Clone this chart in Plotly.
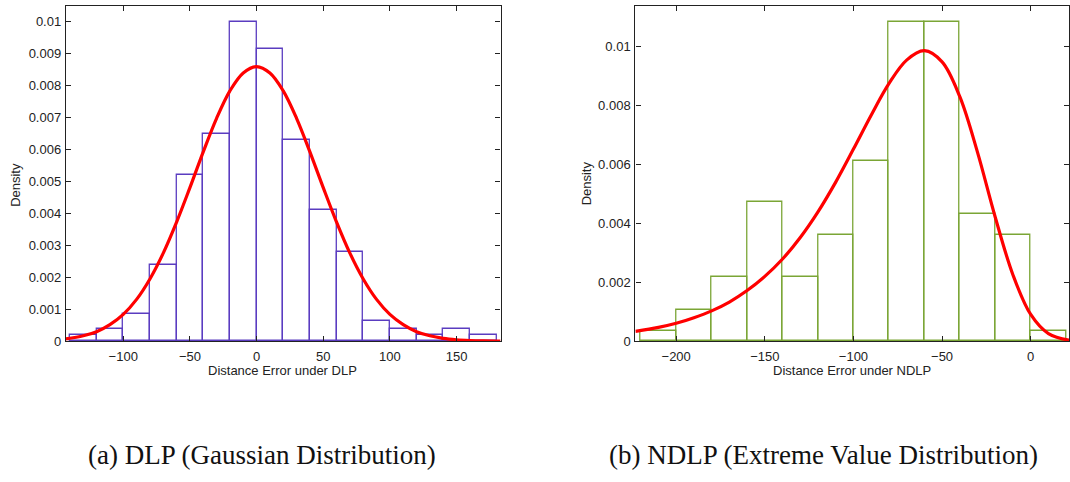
import plotly.graph_objects as go

# ---------------- data: panel (a) DLP ----------------
dlp_bin_left = [-140, -120, -100, -80, -60, -40, -20, 0, 20, 40, 60, 80, 100, 120, 140, 160]
dlp_density = [0.0002, 0.0004, 0.00085, 0.0024, 0.0052, 0.0065, 0.0100, 0.00915,
               0.0063, 0.0041, 0.0028, 0.00065, 0.0004, 0.0002, 0.0004, 0.0002]
dlp_curve_x = [-143, -130, -120, -110, -100, -90, -80, -70, -60, -50, -40, -30, -20, -10,
               0, 10, 20, 30, 40, 50, 60, 70, 80, 90, 100, 110, 120, 130, 140, 150, 160, 170, 183]
dlp_curve_y = [0.000075, 0.00017, 0.0003, 0.00052, 0.00084, 0.00131, 0.00195, 0.00276,
               0.00373, 0.00481, 0.00593, 0.00698, 0.00784, 0.0084, 0.0086, 0.0084,
               0.00784, 0.00698, 0.00593, 0.00481, 0.00373, 0.00276, 0.00195, 0.00131,
               0.00084, 0.00052, 0.0003, 0.00017, 0.00009, 0.000046, 0.000023, 0.00001, 0.000002]

# ---------------- data: panel (b) NDLP ----------------
ndlp_bin_left = [-220, -200, -180, -160, -140, -120, -100, -80, -60, -40, -20, 0]
ndlp_density = [0.00036, 0.00105, 0.00217, 0.00472, 0.00217, 0.0036, 0.00612,
                0.01083, 0.01083, 0.00432, 0.0036, 0.00036]
ndlp_curve_x = [-223, -210, -200, -190, -180, -170, -160, -150, -140, -130, -120, -110,
                -100, -90, -80, -70, -60, -50, -40, -30, -20, -10, 0, 10, 22]
ndlp_curve_y = [0.000335, 0.00047, 0.00061, 0.0008, 0.00103, 0.00133, 0.00172, 0.0022,
                0.00279, 0.00352, 0.00439, 0.0054, 0.00652, 0.00767, 0.00874, 0.00954,
                0.00986, 0.00948, 0.0083, 0.00641, 0.00421, 0.00225, 0.00091, 0.00026, 0.00003]

BIN_W = 20
dlp_ticks_y = [0, 0.001, 0.002, 0.003, 0.004, 0.005, 0.006, 0.007, 0.008, 0.009, 0.01]
dlp_ticktext_y = ["0", "0.001", "0.002", "0.003", "0.004", "0.005", "0.006", "0.007", "0.008", "0.009", "0.01"]
ndlp_ticks_y = [0, 0.002, 0.004, 0.006, 0.008, 0.01]
ndlp_ticktext_y = ["0", "0.002", "0.004", "0.006", "0.008", "0.01"]
dlp_ticks_x = [-100, -50, 0, 50, 100, 150]
ndlp_ticks_x = [-200, -150, -100, -50, 0]

PURPLE = "#5a3cc0"
GREEN = "#7aa535"
RED = "#ff0000"

W, H = 1070, 482

fig = go.Figure()

fig.add_trace(go.Bar(
    x=[b + BIN_W / 2 for b in dlp_bin_left], y=dlp_density, width=BIN_W,
    marker=dict(color="rgba(255,255,255,0)", line=dict(color=PURPLE, width=1.3)),
    xaxis="x", yaxis="y", showlegend=False))
fig.add_trace(go.Scatter(
    x=dlp_curve_x, y=dlp_curve_y, mode="lines", line=dict(color=RED, width=3.2, shape="spline"),
    xaxis="x", yaxis="y", showlegend=False, cliponaxis=True))

fig.add_trace(go.Bar(
    x=[b + BIN_W / 2 for b in ndlp_bin_left], y=ndlp_density, width=BIN_W,
    marker=dict(color="rgba(255,255,255,0)", line=dict(color=GREEN, width=1.3)),
    xaxis="x2", yaxis="y2", showlegend=False))
fig.add_trace(go.Scatter(
    x=ndlp_curve_x, y=ndlp_curve_y, mode="lines", line=dict(color=RED, width=3.2, shape="spline"),
    xaxis="x2", yaxis="y2", showlegend=False, cliponaxis=True))

tickfont = dict(family="Liberation Sans, Arial, sans-serif", size=13, color="#222")
axis_common = dict(showline=True, linecolor="#222", linewidth=1.3, mirror="allticks",
                   ticks="inside", ticklen=5, tickcolor="#222", tickwidth=1,
                   showgrid=False, zeroline=False, tickfont=tickfont)

ytop = 1 - 6 / H
ybot = 1 - 347 / H

fig.update_layout(
    width=W, height=H, margin=dict(l=0, r=0, t=0, b=0),
    paper_bgcolor="white", plot_bgcolor="white", bargap=0,
    xaxis=dict(domain=[66 / W, 501 / W], range=[-143, 183], tickvals=dlp_ticks_x,
               anchor="y", ticklabelstandoff=3, **axis_common),
    yaxis=dict(domain=[ybot, ytop], range=[0, 0.0105], tickvals=dlp_ticks_y,
               ticktext=dlp_ticktext_y, anchor="x", ticklabelstandoff=1, **axis_common),
    xaxis2=dict(domain=[636 / W, 1.0], range=[-223, 21.6], tickvals=ndlp_ticks_x,
                anchor="y2", ticklabelstandoff=3, **axis_common),
    yaxis2=dict(domain=[ybot, ytop], range=[0, 0.01138], tickvals=ndlp_ticks_y,
                ticktext=ndlp_ticktext_y, anchor="x2", ticklabelstandoff=1, **axis_common),
)

lab = dict(family="Liberation Sans, Arial, sans-serif", size=13, color="#222")
cap = dict(family="Liberation Serif, Times New Roman, serif", size=27, color="#111")
ann = [
    dict(text="Distance Error under DLP", x=283 / W, y=1 - 377 / H, font=lab),
    dict(text="Distance Error under NDLP", x=853 / W, y=1 - 377 / H, font=lab),
    dict(text="Density", x=16 / W, y=1 - 188 / H, font=lab, textangle=-90),
    dict(text="Density", x=587 / W, y=1 - 186 / H, font=lab, textangle=-90),
    dict(text="(a) DLP (Gaussian Distribution)", x=262 / W, y=1 - 463 / H, font=cap),
    dict(text="(b) NDLP (Extreme Value Distribution)", x=608 / W, y=1 - 463 / H, font=cap,
         xanchor="left"),
]
for a in ann:
    a.setdefault("xanchor", "center")
    a.update(xref="paper", yref="paper", yanchor="middle", showarrow=False)
fig.update_layout(annotations=ann)

fig.write_html("out.html")
